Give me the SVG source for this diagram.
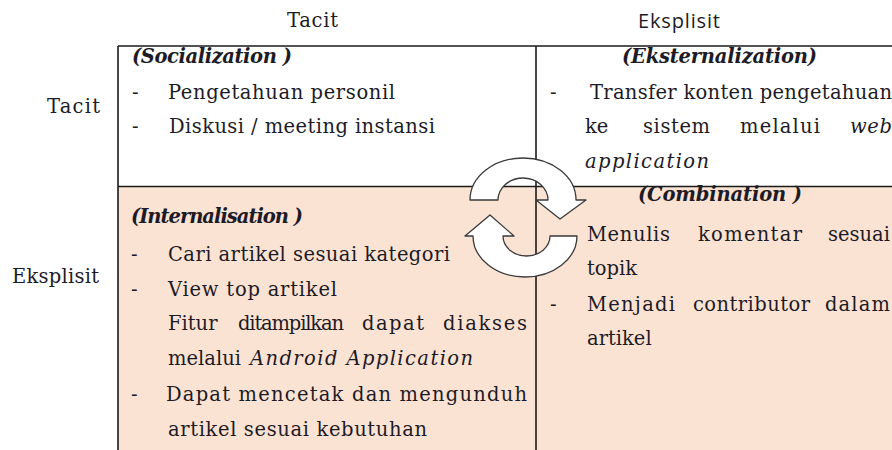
<svg xmlns="http://www.w3.org/2000/svg" width="892" height="450" viewBox="0 0 892 450">
<style>
.t{font-family:"DejaVu Serif",serif;font-size:19.5px;fill:#1d1b26}
.h{font-weight:bold;font-style:italic}
.i{font-style:italic}
.s{font-family:"Open Sans","Liberation Sans",sans-serif;font-size:20px;fill:#1d1b26}
.ln{stroke:#1a1a1a;stroke-width:1.6;fill:none}
.arr{fill:#ffffff;stroke:#3a3a3a;stroke-width:1.3;stroke-linejoin:round}
</style>
<rect x="0" y="0" width="892" height="450" fill="#ffffff"/>
<g id="grid">
<rect x="118" y="186.5" width="774" height="264" fill="#fbe3d4"/>
<line class="ln" x1="118" y1="46" x2="892" y2="46"/>
<line class="ln" x1="118" y1="46" x2="118" y2="450"/>
<line class="ln" x1="118" y1="186.5" x2="892" y2="186.5"/>
<line class="ln" x1="536" y1="46" x2="536" y2="450"/>
</g>
<g id="headers">
<text class="t" x="287" y="27" textLength="51" lengthAdjust="spacing">Tacit</text>
<text class="s" x="638" y="28" textLength="82" lengthAdjust="spacing">Eksplisit</text>
<text class="t" x="47" y="113" textLength="53" lengthAdjust="spacing">Tacit</text>
<text class="t" x="12" y="283" textLength="87" lengthAdjust="spacing">Eksplisit</text>
</g>
<g id="socialization">
<text class="t h" x="132" y="63" textLength="160" lengthAdjust="spacing">(Socialization )</text>
<text class="t" x="132" y="99">-</text>
<text class="t" x="168" y="99" textLength="227" lengthAdjust="spacing">Pengetahuan personil</text>
<text class="t" x="132" y="133">-</text>
<text class="t" x="169" y="133" textLength="266" lengthAdjust="spacing">Diskusi / meeting instansi</text>
</g>
<g id="eksternalization">
<text class="t h" x="622" y="63" textLength="195" lengthAdjust="spacing">(Eksternalization)</text>
<text class="t" x="550" y="99">-</text>
<text class="t" x="590" y="99" textLength="302" lengthAdjust="spacing">Transfer konten pengetahuan</text>
<text class="t" y="133"><tspan x="585">ke</tspan><tspan x="643" textLength="67" lengthAdjust="spacing">sistem</tspan><tspan x="740" textLength="80" lengthAdjust="spacing">melalui</tspan><tspan class="i" x="850" textLength="42" lengthAdjust="spacing">web</tspan></text>
<text class="t i" x="585" y="168" textLength="124" lengthAdjust="spacing">application</text>
</g>
<g id="internalisation">
<text class="t h" x="131" y="223" textLength="172" lengthAdjust="spacing">(Internalisation )</text>
<text class="t" x="131" y="261">-</text>
<text class="t" x="168" y="261" textLength="282" lengthAdjust="spacing">Cari artikel sesuai kategori</text>
<text class="t" x="131" y="296">-</text>
<text class="t" x="168" y="296" textLength="169" lengthAdjust="spacing">View top artikel</text>
<text class="t" y="330"><tspan x="168">Fitur</tspan><tspan x="238" textLength="106" lengthAdjust="spacing">ditampilkan</tspan><tspan x="362" textLength="62" lengthAdjust="spacing">dapat</tspan><tspan x="443" textLength="84" lengthAdjust="spacing">diakses</tspan></text>
<text class="t" y="365"><tspan x="168">melalui</tspan><tspan class="i" x="250" textLength="223" lengthAdjust="spacing">Android Application</tspan></text>
<text class="t" x="131" y="401">-</text>
<text class="t" x="166" y="401" textLength="361" lengthAdjust="spacing">Dapat mencetak dan mengunduh</text>
<text class="t" x="168" y="436" textLength="259" lengthAdjust="spacing">artikel sesuai kebutuhan</text>
</g>
<g id="combination">
<text class="t h" x="638" y="201" textLength="164" lengthAdjust="spacing">(Combination )</text>
<text class="t" y="241"><tspan x="587" textLength="83" lengthAdjust="spacing">Menulis</tspan><tspan x="698" textLength="104" lengthAdjust="spacing">komentar</tspan><tspan x="828" textLength="62" lengthAdjust="spacing">sesuai</tspan></text>
<text class="t" x="587" y="275">topik</text>
<text class="t" x="550" y="311">-</text>
<text class="t" y="311"><tspan x="587" textLength="88" lengthAdjust="spacing">Menjadi</tspan><tspan x="693" textLength="117" lengthAdjust="spacing">contributor</tspan><tspan x="825" textLength="65" lengthAdjust="spacing">dalam</tspan></text>
<text class="t" x="587" y="345">artikel</text>
</g>
<g id="connectors">
<path class="arr" d="M 470 200 A 53 42 0 0 1 576 200 L 586 200 L 560 219 L 536 200 L 548 200 A 25 22 0 0 0 498 200 Z"/>
<path class="arr" d="M 577 236 A 52 41 0 0 1 473 236 L 465 236 L 490 215 L 514 236 L 503 236 A 23.5 20 0 0 0 550 236 Z"/>
</g>
</svg>
